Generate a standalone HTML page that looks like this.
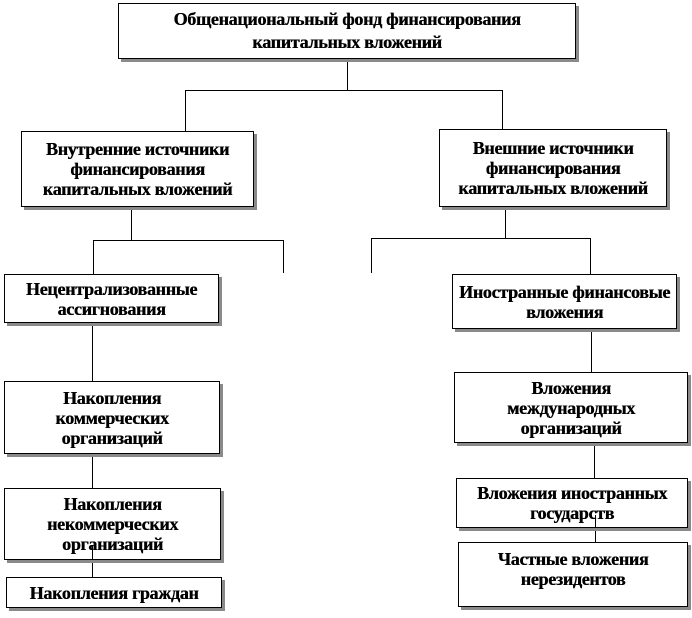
<!DOCTYPE html>
<html><head><meta charset="utf-8"><style>
body{margin:0;width:692px;height:618px;background:#fff;position:relative;overflow:hidden;font-family:"Liberation Serif",serif;}
.b{position:absolute;box-sizing:border-box;border:1px solid #000;background:#fff;box-shadow:3px 3px 0 #8a8a8a;display:flex;align-items:center;justify-content:center;text-align:center;font-weight:bold;font-size:18px;line-height:20px;color:#000;letter-spacing:-0.3px;text-shadow:0.4px 0 0 #000;white-space:nowrap;}
.l{position:absolute;background:#000;}
.v{width:1px}.h{height:1px}
</style></head><body>
<div class="l v" style="left:347px;top:58px;height:32px"></div>
<div class="l h" style="left:185px;top:90px;width:318px"></div>
<div class="l v" style="left:185px;top:90px;height:41px"></div>
<div class="l v" style="left:502px;top:90px;height:39px"></div>
<div class="l v" style="left:131px;top:207px;height:33px"></div>
<div class="l h" style="left:93px;top:240px;width:190px"></div>
<div class="l v" style="left:93px;top:240px;height:34px"></div>
<div class="l v" style="left:283px;top:240px;height:33px"></div>
<div class="l v" style="left:505px;top:207px;height:31px"></div>
<div class="l h" style="left:371px;top:238px;width:220px"></div>
<div class="l v" style="left:371px;top:238px;height:35px"></div>
<div class="l v" style="left:590px;top:238px;height:36px"></div>
<div class="l v" style="left:92px;top:323px;height:58px"></div>
<div class="l v" style="left:92px;top:454px;height:34px"></div>
<div class="l v" style="left:92px;top:545px;height:32px"></div>
<div class="l v" style="left:591px;top:329px;height:43px"></div>
<div class="l v" style="left:594px;top:443px;height:35px"></div>
<div class="l v" style="left:595px;top:515px;height:27px"></div>

<div class="b" style="left:118px;top:3px;width:458px;height:56px;line-height:23px">Общенациональный фонд финансирования<br>капитальных вложений</div>
<div class="b" style="left:21px;top:131px;width:233px;height:76px">Внутренние источники<br>финансирования<br>капитальных вложений</div>
<div class="b" style="left:439px;top:129px;width:228px;height:78px">Внешние источники<br>финансирования<br>капитальных вложений</div>
<div class="b" style="left:4px;top:274px;width:215px;height:49px">Нецентрализованные<br>ассигнования</div>
<div class="b" style="left:452px;top:274px;width:225px;height:55px">Иностранные финансовые<br>вложения</div>
<div class="b" style="left:4px;top:381px;width:216px;height:73px">Накопления<br>коммерческих<br>организаций</div>
<div class="b" style="left:454px;top:372px;width:234px;height:71px">Вложения<br>международных<br>организаций</div>
<div class="b" style="left:4px;top:488px;width:217px;height:72px;background:transparent">Накопления<br>некоммерческих<br>организаций</div>
<div class="b" style="left:456px;top:478px;width:232px;height:50px;background:transparent">Вложения иностранных<br>государств</div>
<div class="b" style="left:6px;top:577px;width:216px;height:31px">Накопления граждан</div>
<div class="b" style="left:458px;top:542px;width:230px;height:65px;align-items:flex-start;padding-top:6px">Частные вложения<br>нерезидентов</div>
</body></html>
